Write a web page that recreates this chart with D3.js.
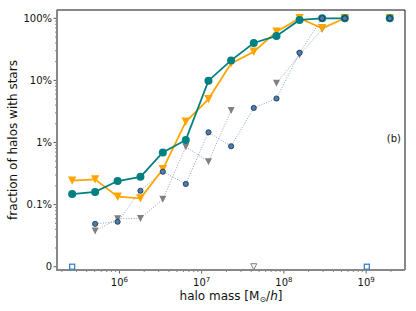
<!DOCTYPE html>
<html><head><meta charset="utf-8">
<script src="https://cdn.jsdelivr.net/npm/d3@7"></script>
<style>body{margin:0;background:#fff}svg{display:block;font-family:"DejaVu Sans",sans-serif}</style>
</head><body><svg id="c" width="416" height="311"></svg>
<script>
// halo mass bin centres [Msun/h]
const masses = [2.66e5, 5.06e5, 9.5e5, 1.8e6, 3.37e6, 6.41e6, 1.21e7, 2.28e7, 4.3e7, 8.13e7, 1.55e8, 2.92e8, 5.51e8, 1.02e9, 1.94e9];
// fraction of halos with stars (null = no data, 0 = none)
const tealVals   = [0.00148, 0.0016, 0.0024, 0.0028, 0.0069, 0.011, 0.099, 0.21, 0.40, 0.52, 0.94, 1.0, 1.0, null, 1.0];
const orangeVals = [0.00243, 0.00255, 0.00134, 0.00126, 0.0037, 0.0216, 0.050, 0.188, 0.29, 0.61, 1.0, 0.69, 1.0, null, 1.0];
const grayVals   = [null, 0.000376, 0.00059, 0.0006, 0.00122, 0.00855, 0.0049, 0.0328, 0, 0.0898, 0.257, 0.665, 1.0, null, 1.0];
const blueVals   = [0, 0.00049, 0.00053, 0.00167, 0.00339, 0.00215, 0.0146, 0.0087, 0.036, 0.0511, 0.279, 1.0, 1.0, 0, 1.0];
const yTickVals = [1e-4, 1e-3, 1e-2, 1e-1, 1];
const yTickLabels = ["0", "0.1%", "1%", "10%", "100%"];
const xTickVals = [1e6, 1e7, 1e8, 1e9];
const xTickExps = ["6", "7", "8", "9"];
const ZERO = 1e-4;

const svg = d3.select("#c");
const L = 57, R = 405, T = 10, B = 270;
const x = d3.scaleLog().domain([1.74e5, 2.97e9]).range([L, R]);
const y = d3.scaleLog().domain([8.85e-5, 1.36]).range([B, T]);
const yv = v => y(v === 0 ? ZERO : v);

// minor ticks
const g = svg.append("g");
for (let e = 5; e <= 9; e++) for (let k = 2; k <= 9; k++) {
  const m = k * Math.pow(10, e);
  if (m < x.domain()[0] || m > x.domain()[1]) continue;
  g.append("line").attr("x1", x(m)).attr("x2", x(m)).attr("y1", B).attr("y2", B + 2).attr("stroke", "#333").attr("stroke-width", 0.6);
}
for (let e = -4; e <= 0; e++) for (let k = 2; k <= 9; k++) {
  const v = k * Math.pow(10, e);
  if (v < y.domain()[0] || v > y.domain()[1]) continue;
  g.append("line").attr("x1", L - 2).attr("x2", L).attr("y1", y(v)).attr("y2", y(v)).attr("stroke", "#333").attr("stroke-width", 0.6);
}
// major ticks + labels
yTickVals.forEach((v, i) => {
  g.append("line").attr("x1", L - 3.5).attr("x2", L).attr("y1", y(v)).attr("y2", y(v)).attr("stroke", "#333").attr("stroke-width", 0.8);
  g.append("text").attr("x", L - 5).attr("y", y(v)).attr("dy", "0.35em").attr("text-anchor", "end")
    .attr("font-size", 10).attr("fill", "#111").text(yTickLabels[i]);
});
xTickVals.forEach((v, i) => {
  g.append("line").attr("x1", x(v)).attr("x2", x(v)).attr("y1", B).attr("y2", B + 3.5).attr("stroke", "#333").attr("stroke-width", 0.8);
  const t = g.append("text").attr("x", x(v)).attr("y", 286).attr("text-anchor", "middle").attr("font-size", 10).attr("fill", "#111");
  t.append("tspan").text("10");
  t.append("tspan").attr("font-size", 7).attr("dy", -4).text(xTickExps[i]);
});

// spines
svg.append("line").attr("x1", L).attr("x2", R).attr("y1", T).attr("y2", T).attr("stroke", "#111").attr("stroke-width", 1);
svg.append("line").attr("x1", R).attr("x2", R).attr("y1", T).attr("y2", B).attr("stroke", "#111").attr("stroke-width", 1);
svg.append("line").attr("x1", L).attr("x2", L).attr("y1", T - 0.5).attr("y2", B + 1).attr("stroke", "#888").attr("stroke-width", 2);
svg.append("line").attr("x1", L - 1).attr("x2", R).attr("y1", B).attr("y2", B).attr("stroke", "#888").attr("stroke-width", 2);

// data
const pts = vals => masses.map((m, i) => ({m, v: vals[i], i}));
const lineGen = d3.line().defined(d => d.v !== null && d.v > 0 && d.i < 13).x(d => x(d.m)).y(d => yv(d.v));
const triDown = r => `M${-r},${-r}L${r},${-r}L0,${r}Z`;
const triUp = r => `M${-r},${r}L${r},${r}L0,${-r}Z`;

function drawLine(vals, color, width, dash) {
  svg.append("path").datum(pts(vals)).attr("d", lineGen).attr("fill", "none")
    .attr("stroke", color).attr("stroke-width", width).attr("stroke-dasharray", dash || null);
}
// gray series
drawLine(grayVals, "#a0a0a0", 1, "1,1.6");
// blue series
drawLine(blueVals, "#7aa6d4", 1, "1,1.6");
// orange & teal
drawLine(orangeVals, "#FFA500", 1.8);
drawLine(tealVals, "#008080", 1.8);

// markers
pts(grayVals).filter(d => d.v !== null).forEach(d => {
  if (d.v === 0) svg.append("path").attr("d", triDown(3)).attr("transform", `translate(${x(d.m)},${yv(0)})`).attr("fill", "#fff").attr("stroke", "#808080").attr("stroke-width", 1);
  else svg.append("path").attr("d", triDown(3.5)).attr("transform", `translate(${x(d.m)},${yv(d.v)})`).attr("fill", "#808080");
});
pts(orangeVals).filter(d => d.v !== null).forEach(d => {
  svg.append("path").attr("d", triDown(4.2)).attr("transform", `translate(${x(d.m)},${yv(d.v)})`).attr("fill", "#FFA500");
});
pts(tealVals).filter(d => d.v !== null).forEach(d => {
  svg.append("circle").attr("cx", x(d.m)).attr("cy", yv(d.v)).attr("r", 4).attr("fill", "#008080");
});
pts(blueVals).filter(d => d.v !== null).forEach(d => {
  if (d.v === 0) svg.append("rect").attr("x", x(d.m) - 2.5).attr("y", yv(0) - 2.5).attr("width", 5).attr("height", 5).attr("fill", "#fff").attr("stroke", "#3f7fbf").attr("stroke-width", 1.3);
  else svg.append("circle").attr("cx", x(d.m)).attr("cy", yv(d.v)).attr("r", 2.6).attr("fill", "#4a7db0").attr("stroke", "#1c2f45").attr("stroke-width", 0.8);
});

// labels
svg.append("text").attr("x", 401).attr("y", 142).attr("text-anchor", "end").attr("font-size", 10).attr("fill", "#111").text("(b)");
svg.append("text").attr("transform", "translate(17,140) rotate(-90)").attr("text-anchor", "middle").attr("font-size", 12).attr("fill", "#111").text("fraction of halos with stars");
const xl = svg.append("text").attr("x", 231).attr("y", 300).attr("text-anchor", "middle").attr("font-size", 12).attr("fill", "#111");
xl.append("tspan").text("halo mass [M");
xl.append("tspan").attr("font-size", 8).attr("dy", 2).text("⊙");
xl.append("tspan").attr("dy", -2).text("/");
xl.append("tspan").attr("font-style", "italic").text("h");
xl.append("tspan").text("]");
</script></body></html>
